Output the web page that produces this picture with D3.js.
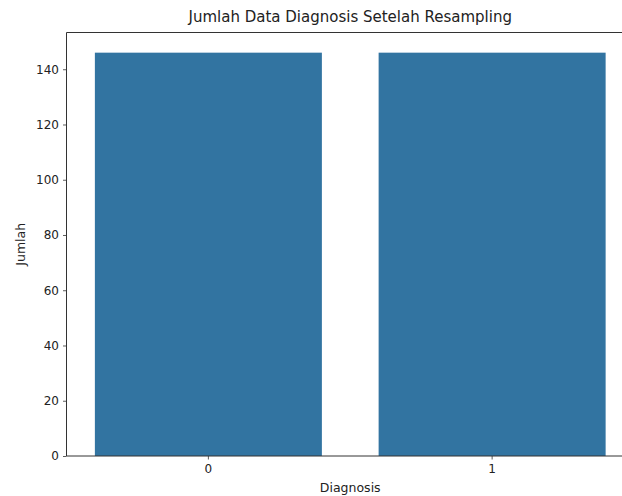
<!DOCTYPE html>
<html><head><meta charset="utf-8">
<script src="https://cdn.jsdelivr.net/npm/d3@7"></script>
<style>body{margin:0;background:#fff;} text{font-family:"DejaVu Sans",sans-serif;fill:#222;}</style>
</head><body>
<svg id="c" width="622" height="496"></svg>
<script>
const categories = ["0", "1"];
const counts = [146, 146];
const yTicks = [0, 20, 40, 60, 80, 100, 120, 140];
const title = "Jumlah Data Diagnosis Setelah Resampling";
const xLabel = "Diagnosis";
const yLabel = "Jumlah";

const svg = d3.select("#c");
const L = 66.5, R = 634, T = 32.5, B = 456;
const x = d3.scaleBand().domain(categories).range([L, R]).paddingInner(0.2).paddingOuter(0.1);
const y = d3.scaleLinear().domain([0, d3.max(counts) * 1.05]).range([B, T]);

svg.append("g").selectAll("rect").data(categories).join("rect")
  .attr("x", d => x(d)).attr("width", x.bandwidth())
  .attr("y", (d, i) => y(counts[i])).attr("height", (d, i) => B - y(counts[i]))
  .attr("fill", "#3274a1");

const ya = svg.append("g").attr("transform", `translate(${L},0)`)
  .call(d3.axisLeft(y).tickValues(yTicks).tickSize(3.5).tickPadding(4));
const xa = svg.append("g").attr("transform", `translate(0,${B})`)
  .call(d3.axisBottom(x).tickSize(3.5).tickPadding(5));
[ya, xa].forEach(a => {
  a.select(".domain").remove();
  a.selectAll("line").attr("stroke", "#333").attr("stroke-width", 0.8);
  a.selectAll("text").style("font-family", "DejaVu Sans").style("font-size", "12px").attr("fill", "#222");
});
// spines
svg.append("line").attr("x1", L).attr("x2", L).attr("y1", T).attr("y2", B).attr("stroke", "#333").attr("stroke-width", 1);
svg.append("line").attr("x1", L).attr("x2", R).attr("y1", B).attr("y2", B).attr("stroke", "#333").attr("stroke-width", 1);
svg.append("line").attr("x1", L).attr("x2", R).attr("y1", T).attr("y2", T).attr("stroke", "#333").attr("stroke-width", 1);

svg.append("text").attr("x", (L + R) / 2).attr("y", 22).attr("text-anchor", "middle")
  .style("font-size", "15px").text(title);
svg.append("text").attr("x", (L + R) / 2).attr("y", 492).attr("text-anchor", "middle")
  .style("font-size", "12.5px").text(xLabel);
svg.append("text").attr("transform", `translate(21,${(T + B) / 2}) rotate(-90)`).attr("text-anchor", "middle")
  .attr("dy", "0.35em").style("font-size", "12.5px").text(yLabel);
</script>
</body></html>
